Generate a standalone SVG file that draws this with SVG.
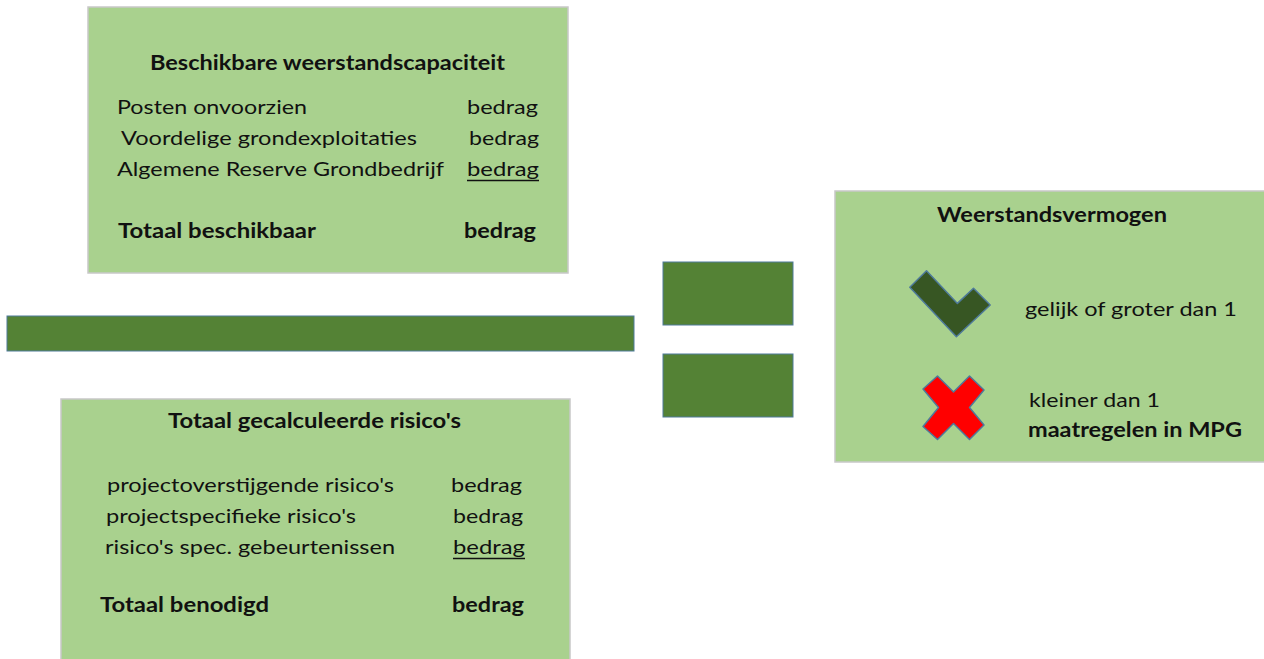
<svg xmlns="http://www.w3.org/2000/svg" width="1264" height="659" viewBox="0 0 1264 659">
<style>
.box{fill:#A9D18E;stroke:#C8C8C8;stroke-width:1.5}
.bar{fill:#548235;stroke:#4E7A9A;stroke-width:1}
.t{font-family:Lato,"Open Sans","Liberation Sans",sans-serif;font-size:20px;fill:#111}
.b{font-weight:bold}
.u{text-decoration:underline}
</style>
<rect width="1264" height="659" fill="#fff"/>
<g id="beschikbaar">
<rect class="box" x="88" y="7" width="480" height="266"/>
<text class="t b" x="150" y="70" textLength="355" lengthAdjust="spacingAndGlyphs">Beschikbare weerstandscapaciteit</text>
<text class="t" x="117" y="114" textLength="190" lengthAdjust="spacingAndGlyphs">Posten onvoorzien</text>
<text class="t" x="467" y="114" textLength="71" lengthAdjust="spacingAndGlyphs">bedrag</text>
<text class="t" x="121" y="145" textLength="296" lengthAdjust="spacingAndGlyphs">Voordelige grondexploitaties</text>
<text class="t" x="469" y="145" textLength="70" lengthAdjust="spacingAndGlyphs">bedrag</text>
<text class="t" x="117" y="176" textLength="327" lengthAdjust="spacingAndGlyphs">Algemene Reserve Grondbedrijf</text>
<text class="t" x="467" y="176" textLength="72" lengthAdjust="spacingAndGlyphs">bedrag</text>
<line x1="467" y1="180.5" x2="539" y2="180.5" stroke="#111" stroke-width="1.5"/>
<text class="t b" x="118" y="238" textLength="198" lengthAdjust="spacingAndGlyphs">Totaal beschikbaar</text>
<text class="t b" x="464" y="238" textLength="72" lengthAdjust="spacingAndGlyphs">bedrag</text>
</g>
<g id="deelstreep">
<rect class="bar" x="7" y="316" width="627" height="35" stroke="#BFD8B0"/>
</g>
<g id="risicos">
<rect class="box" x="61" y="399" width="509" height="262"/>
<text class="t b" x="168" y="428" textLength="293" lengthAdjust="spacingAndGlyphs">Totaal gecalculeerde risico's</text>
<text class="t" x="107" y="492" textLength="287" lengthAdjust="spacingAndGlyphs">projectoverstijgende risico's</text>
<text class="t" x="451" y="492" textLength="71" lengthAdjust="spacingAndGlyphs">bedrag</text>
<text class="t" x="106" y="523" textLength="250" lengthAdjust="spacingAndGlyphs">projectspecifieke risico's</text>
<text class="t" x="453" y="523" textLength="70" lengthAdjust="spacingAndGlyphs">bedrag</text>
<text class="t" x="105" y="554" textLength="290" lengthAdjust="spacingAndGlyphs">risico's spec. gebeurtenissen</text>
<text class="t" x="453" y="554" textLength="72" lengthAdjust="spacingAndGlyphs">bedrag</text>
<line x1="453" y1="558.5" x2="525" y2="558.5" stroke="#111" stroke-width="1.5"/>
<text class="t b" x="100" y="612" textLength="169" lengthAdjust="spacingAndGlyphs">Totaal benodigd</text>
<text class="t b" x="452" y="612" textLength="72" lengthAdjust="spacingAndGlyphs">bedrag</text>
</g>
<g id="isgelijk">
<rect class="bar" x="663" y="262" width="130" height="63"/>
<rect class="bar" x="663" y="354" width="130" height="63"/>
</g>
<g id="weerstandsvermogen">
<rect class="box" x="835" y="191" width="440" height="271"/>
<text class="t b" x="937" y="222" textLength="230" lengthAdjust="spacingAndGlyphs">Weerstandsvermogen</text>
<polygon points="926.5,270.7 957.4,303.4 973.5,288.3 990.2,305 956.4,336.7 909.8,287.3" fill="#375623" stroke="#4E7A9A" stroke-width="1.5" stroke-linejoin="round"/>
<text class="t" x="1025" y="316" textLength="212" lengthAdjust="spacingAndGlyphs">gelijk of groter dan 1</text>
<polygon points="923,389 937.5,376 953.5,392 969.5,376 984,390 969.5,407.5 984,425 969.5,439.5 953.5,423.5 937.5,439.5 923,426.5 938.5,407.5" fill="#FF0000" stroke="#4E7A9A" stroke-width="1.5" stroke-linejoin="round"/>
<text class="t" x="1029" y="407" textLength="131" lengthAdjust="spacingAndGlyphs">kleiner dan 1</text>
<text class="t b" x="1028" y="437" textLength="214" lengthAdjust="spacingAndGlyphs">maatregelen in MPG</text>
</g>
</svg>
